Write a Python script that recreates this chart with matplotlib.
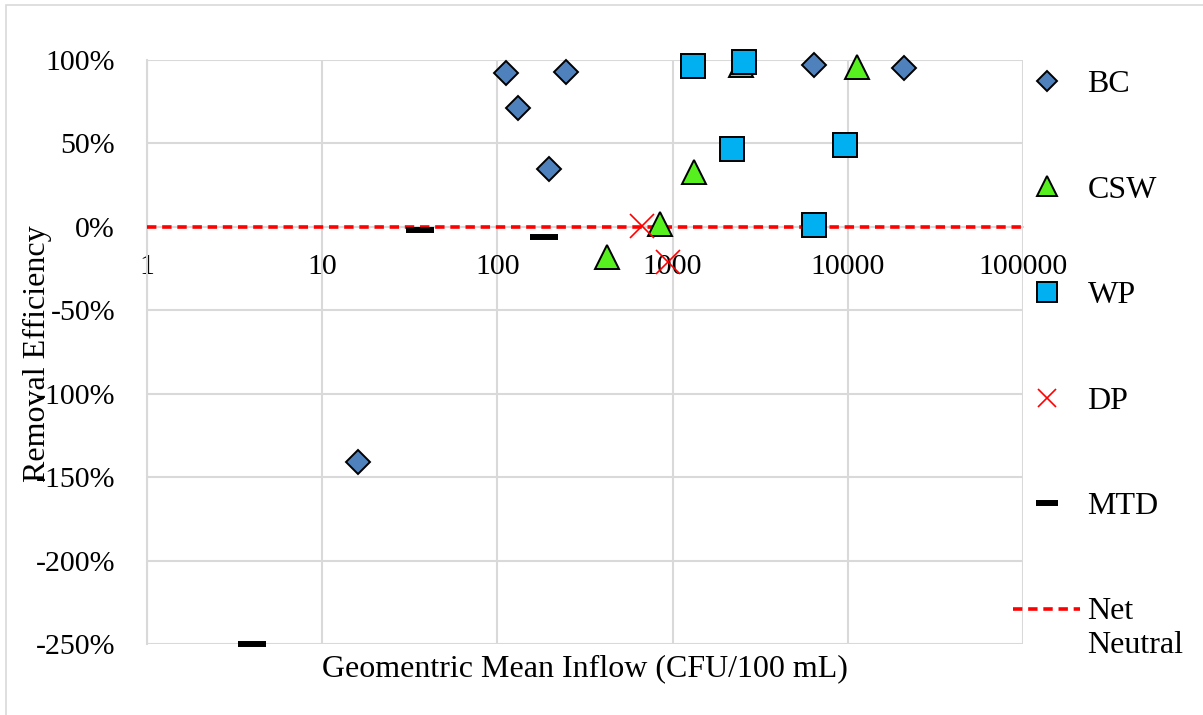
import matplotlib
matplotlib.use("Agg")
import matplotlib.pyplot as plt
from matplotlib.legend_handler import HandlerLine2D
from matplotlib.patches import Rectangle
from matplotlib.ticker import FixedLocator, FuncFormatter

# Removal efficiency (%) against geometric mean inflow (CFU/100 mL)
bc_x = [112, 131, 245, 196, 16, 6420, 20800]
bc_y = [92, 71, 92.6, 34.6, -141, 97, 95]

csw_x = [425, 846, 1320, 2463, 11250]
csw_y = [-18, 1.5, 33, 97, 96]

wp_x = [1300, 2547, 2173, 9610, 6395]
wp_y = [96.4, 98.8, 46.6, 48.8, 1.0]

dp_x = [665, 936]
dp_y = [0.5, -21]

mtd_x = [3.98, 36.1, 185]
mtd_y = [-250, -1.9, -6.1]

net_x = [1, 100000]
net_y = [0, 0]

x_ticks = [1, 10, 100, 1000, 10000, 100000]
y_ticks = [100, 50, 0, -50, -100, -150, -200, -250]

FONT = "Liberation Serif"
FS_TICK = 21.5
FS_TEXT = 23
plt.rcParams["font.family"] = [FONT, "DejaVu Serif"]
plt.rcParams["font.size"] = FS_TICK

fig = plt.figure(figsize=(12.03, 7.15), dpi=100)
ax = fig.add_axes([147 / 1203, 1 - 644 / 715, (1023 - 147) / 1203, (644 - 60) / 715])

# light frame around the chart area
fig.patches.append(Rectangle((6 / 1203, -0.05), 1.1, 1 - 5 / 715 + 0.05,
                             transform=fig.transFigure, fill=False,
                             edgecolor="#D9D9D9", linewidth=1.2))

grid_c = "#D9D9D9"
ax.set_xscale("log")
ax.set_xlim(1, 100000)
ax.set_ylim(-250, 100)

ax.xaxis.set_major_locator(FixedLocator(x_ticks))
ax.xaxis.set_minor_locator(FixedLocator([]))
ax.xaxis.set_major_formatter(FuncFormatter(lambda v, p: f"{v:.0f}"))
ax.yaxis.set_major_locator(FixedLocator(y_ticks))
ax.yaxis.set_major_formatter(FuncFormatter(lambda v, p: f"{v:.0f}%"))

ax.grid(True, which="major", color=grid_c, linewidth=1.5, zorder=0)
ax.set_axisbelow(True)
for s in ("top", "right"):
    ax.spines[s].set_visible(False)
ax.spines["left"].set_color(grid_c)
ax.spines["left"].set_linewidth(1.5)
ax.spines["bottom"].set_position(("data", 0))
ax.spines["bottom"].set_color(grid_c)
ax.spines["bottom"].set_linewidth(1.5)
ax.spines["bottom"].set_zorder(1)
ax.tick_params(axis="both", length=0, labelsize=FS_TICK)
ax.tick_params(axis="y", pad=23)
ax.tick_params(axis="x", pad=19.5)

net, = ax.plot(net_x, net_y, color="#FF0000", linewidth=2.6,
               linestyle=(0, (2.6, 1.6)), zorder=3, label="Net\nNeutral")

edge = dict(markeredgecolor="black", markeredgewidth=1.4, linestyle="none",
            zorder=4, clip_on=False)
bc, = ax.plot(bc_x, bc_y, marker="D", markersize=12.2, markerfacecolor="#4F81BD",
              label="BC", **edge)
csw, = ax.plot(csw_x, csw_y, marker="^", markersize=17.5, markerfacecolor="#55F01E",
               label="CSW", **edge)
wp, = ax.plot(wp_x, wp_y, marker="s", markersize=17.3, markerfacecolor="#00B0F0",
              label="WP", **edge)
dp, = ax.plot(dp_x, dp_y, marker="x", markersize=17, markeredgecolor="#FF0000",
              markeredgewidth=1.2, linestyle="none", zorder=4, clip_on=False,
              label="DP")
mtd, = ax.plot(mtd_x, mtd_y, marker="_", markersize=19.5, markeredgecolor="black",
               markeredgewidth=4.3, linestyle="none", zorder=4, clip_on=False,
               label="MTD")

ax.set_xlabel("Geomentric Mean Inflow (CFU/100 mL)", fontsize=FS_TEXT)
ax.xaxis.set_label_coords(0.5, -0.018)
ax.set_ylabel("Removal Efficiency", fontsize=FS_TEXT)
ax.yaxis.set_label_coords(-0.109, 0.497)


class TopLineHandler(HandlerLine2D):
    """Line handle aligned with the first line of a two-line label."""

    def create_artists(self, legend, orig_handle, xdescent, ydescent,
                       width, height, fontsize, trans):
        arts = super().create_artists(legend, orig_handle, xdescent, ydescent,
                                      width, height, fontsize, trans)
        for a in arts:
            y = a.get_ydata()
            a.set_ydata([v + 0.6 * fontsize for v in y])
        return arts


leg = fig.legend(
    handles=[bc, csw, wp, dp, mtd, net],
    loc="upper left",
    bbox_to_anchor=(984 / 1203, 1 - 41 / 715),
    frameon=False,
    fontsize=FS_TEXT,
    labelspacing=2.385,
    handlelength=2.12,
    handletextpad=0.22,
    markerscale=0.8,
    handler_map={net: TopLineHandler()},
)

fig.savefig("out.png", dpi=100)
